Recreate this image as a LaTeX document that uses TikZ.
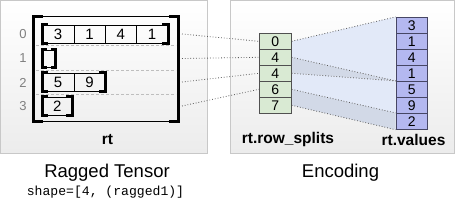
\documentclass[tikz,border=0pt]{standalone}
\usepackage{fontspec}
\setmainfont{Liberation Sans}
\newfontfamily\monofont{Liberation Mono}
\usetikzlibrary{backgrounds}
\definecolor{panelline}{RGB}{200,200,200}
\definecolor{panelbot}{RGB}{236,236,236}
\definecolor{seprow}{RGB}{190,190,190}
\definecolor{lab}{RGB}{128,128,128}
\definecolor{dotc}{RGB}{90,90,90}
\definecolor{encfill}{RGB}{217,234,211}
\definecolor{encline}{RGB}{80,80,80}
\definecolor{valfill}{RGB}{180,184,240}
\definecolor{valline}{RGB}{70,70,100}
\definecolor{bandA}{RGB}{226,233,248}
\definecolor{bandB}{RGB}{210,217,231}
\tikzset{
  panel/.style={draw=panelline, line width=1pt, top color=white, bottom color=panelbot},
  rcell/.style={draw=black, line width=0.6pt, minimum width=31.3pt, minimum height=18pt, inner sep=0pt, font=\fontsize{15}{15}\selectfont},
  brk/.style={line width=3pt, black},
  thinl/.style={line width=0.7pt, black},
  sepline/.style={seprow, dashed, line width=0.7pt, dash pattern=on 3pt off 2pt},
  rowlab/.style={text=lab, font=\fontsize{13}{13}\selectfont},
  enc/.style={draw=encline, fill=encfill, line width=0.8pt, minimum width=32pt, minimum height=16pt, inner sep=0pt, font=\fontsize{14}{14}\selectfont},
  val/.style={draw=valline, fill=valfill, line width=0.8pt, minimum width=31.5pt, minimum height=16pt, inner sep=0pt, font=\fontsize{14}{14}\selectfont},
  conn/.style={dotc, dotted, line width=0.8pt},
  boldlab/.style={font=\bfseries\fontsize{15.5}{15.5}\selectfont},
  title/.style={font=\fontsize{18.5}{18.5}\selectfont}
}
\begin{document}
\begin{tikzpicture}[x=1pt,y=-1pt]
\useasboundingbox (0,0) rectangle (457,201);
% outer box of rt
\node[minimum width=144pt, minimum height=104.5pt, inner sep=0pt] (rtbox) at (106,68.75) {};
% row 0
\node[rcell] (c00) at (58.15,34) {3};
\node[rcell] (c01) at (89.45,34) {1};
\node[rcell] (c02) at (120.75,34) {4};
\node[rcell] (c03) at (152.05,34) {1};
% row 1
\node[draw=black, line width=0.6pt, minimum width=13pt, minimum height=17pt, inner sep=0pt] (e1) at (49,58.5) {};
% row 2
\node[rcell] (c20) at (58.15,82) {5};
\node[rcell] (c21) at (89.45,82) {9};
% row 3
\node[rcell, minimum width=29.5pt] (c30) at (57.25,106) {2};
% brackets of rows
\draw[brk] ([xshift=6pt]c00.north west) -- (c00.north west) -- (c00.south west) -- ([xshift=6pt]c00.south west);
\draw[brk] ([xshift=-6pt]c03.north east) -- (c03.north east) -- (c03.south east) -- ([xshift=-6pt]c03.south east);
\draw[brk] ([xshift=5pt]e1.north west) -- (e1.north west) -- (e1.south west) -- ([xshift=5pt]e1.south west);
\draw[brk] ([xshift=-5pt]e1.north east) -- (e1.north east) -- (e1.south east) -- ([xshift=-5pt]e1.south east);
\draw[brk] ([xshift=6pt]c20.north west) -- (c20.north west) -- (c20.south west) -- ([xshift=6pt]c20.south west);
\draw[brk] ([xshift=-6pt]c21.north east) -- (c21.north east) -- (c21.south east) -- ([xshift=-6pt]c21.south east);
\draw[brk] ([xshift=6pt]c30.north west) -- (c30.north west) -- (c30.south west) -- ([xshift=6pt]c30.south west);
\draw[brk] ([xshift=-6pt]c30.north east) -- (c30.north east) -- (c30.south east) -- ([xshift=-6pt]c30.south east);
% outer bracket
\draw[thinl] (rtbox.north west) -- (rtbox.north east);
\draw[thinl] (rtbox.south west) -- (rtbox.south east);
\draw[brk] ([xshift=9pt]rtbox.north west) -- (rtbox.north west) -- (rtbox.south west) -- ([xshift=9pt]rtbox.south west);
\draw[brk] ([xshift=-9pt]rtbox.north east) -- (rtbox.north east) -- (rtbox.south east) -- ([xshift=-9pt]rtbox.south east);
% separators
\draw[sepline] (36,45.8) -- (176,45.8);
\draw[sepline] (36,70.2) -- (176,70.2);
\draw[sepline] (36,94.5) -- (176,94.5);
% row labels
\node[rowlab] (l0) at (23,34.5) {0};
\node[rowlab] (l1) at (23,58.5) {1};
\node[rowlab] (l2) at (23,82.5) {2};
\node[rowlab] (l3) at (23,106.5) {3};
\node[boldlab] (rtl) at (107.5,139.5) {rt};
% encoding
\node[enc] (s0) at (275.3,41.3) {0};
\node[enc] (s1) at (275.3,57.3) {4};
\node[enc] (s2) at (275.3,73.3) {4};
\node[enc] (s3) at (275.3,89.3) {6};
\node[enc] (s4) at (275.3,105.3) {7};
\node[val] (v0) at (411.7,25.3) {3};
\node[val] (v1) at (411.7,41.3) {1};
\node[val] (v2) at (411.7,57.3) {4};
\node[val] (v3) at (411.7,73.3) {1};
\node[val] (v4) at (411.7,89.3) {5};
\node[val] (v5) at (411.7,105.3) {9};
\node[val] (v6) at (411.7,121.3) {2};
\node[boldlab] (rsl) at (288,139.5) {rt.row\_splits};
\node[boldlab] (rvl) at (413.5,139.5) {rt.values};
% titles
\node[title] (t1) at (107,172.5) {Ragged Tensor};
\node[font=\monofont\fontsize{13.1}{13.1}\selectfont] (t2) at (105.5,192) {shape=[4, (ragged1)]};
\node[title] (t3) at (340.5,172.5) {Encoding};
% connector ends
\coordinate (a0) at (182,34);
\coordinate (a1) at (182,58.5);
\coordinate (a2) at (182,82);
\coordinate (a3) at (182,106);
\begin{pgfonlayer}{background}
\draw[panel] (0.5,0.5) rectangle (207,153);
\draw[panel] (230.5,0.5) rectangle (454.5,153);
\fill[bandA] (s0.east) -- (v0.north west) -- (v4.north west) -- (s1.east) -- cycle;
\fill[bandB] (s1.east) -- (v4.north west) -- (s2.east) -- cycle;
\fill[bandA] (s2.east) -- (v4.north west) -- (v6.north west) -- (s3.east) -- cycle;
\fill[bandB] (s3.east) -- (v6.north west) -- (v6.south west) -- (s4.east) -- cycle;
\draw[conn] (a0) -- (s0.west);
\draw[conn] (a1) -- (s1.west);
\draw[conn] (a2) -- (s2.west);
\draw[conn] (a3) -- (s3.west);
\draw[conn] (s0.east) -- (v0.north west);
\draw[conn] (s1.east) -- (v4.north west);
\draw[conn] (s2.east) -- (v4.north west);
\draw[conn] (s3.east) -- (v6.north west);
\draw[conn] (s4.east) -- (v6.south west);
\end{pgfonlayer}
\end{tikzpicture}
\end{document}
